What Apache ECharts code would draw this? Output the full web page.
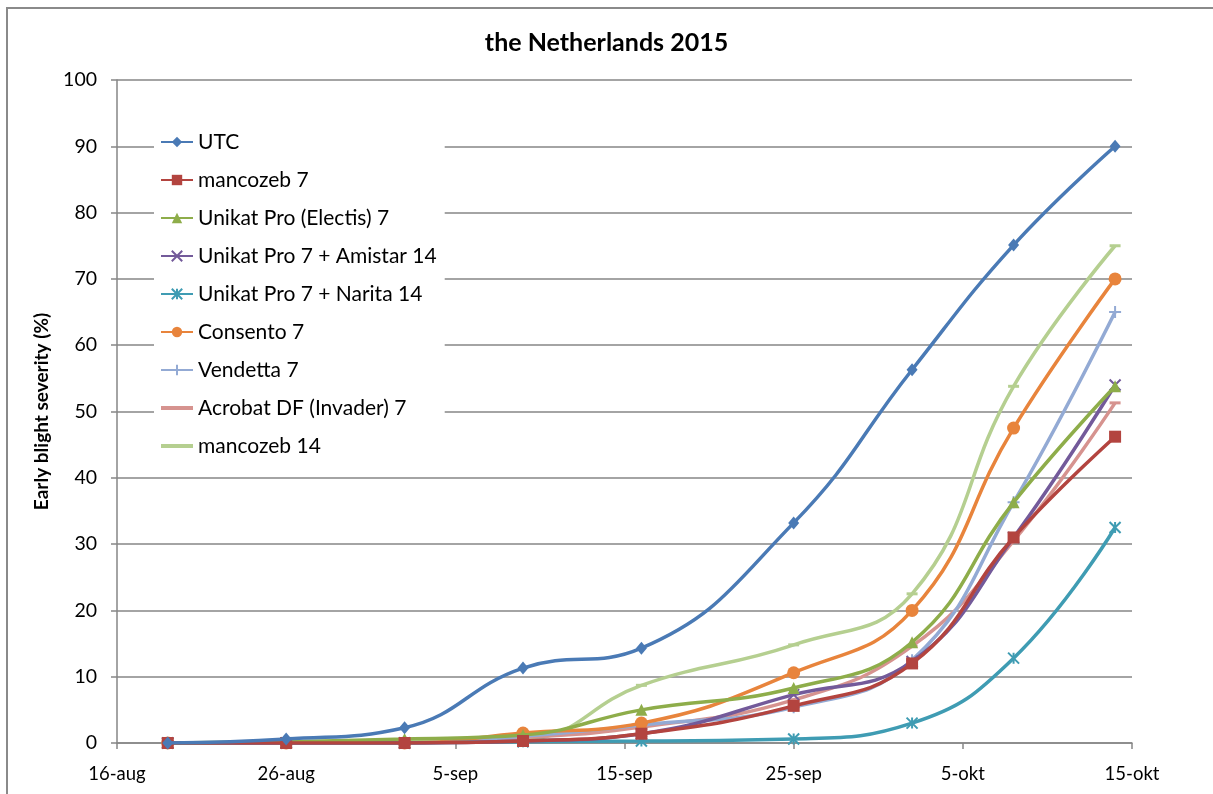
<!DOCTYPE html>
<html>
<head>
<meta charset="utf-8">
<script src="https://cdn.jsdelivr.net/npm/echarts@6/dist/echarts.min.js"></script>
<style>
html,body{margin:0;padding:0;background:#fff;}
#c{width:1213px;height:794px;}
</style>
</head>
<body>
<div id="c"></div>
<script>
// ---- data ----
const startDate = '2015-08-16';
const xTickLabels = ['16-aug', '26-aug', '5-sep', '15-sep', '25-sep', '5-okt', '15-okt'];
const dates = ['2015-08-19', '2015-08-26', '2015-09-02', '2015-09-09', '2015-09-16', '2015-09-25', '2015-10-02', '2015-10-08', '2015-10-14'];
const seriesNames = ['UTC', 'mancozeb 7', 'Unikat Pro (Electis) 7', 'Unikat Pro 7 + Amistar 14', 'Unikat Pro 7 + Narita 14', 'Consento 7', 'Vendetta 7', 'Acrobat DF (Invader) 7', 'mancozeb 14'];
const utc            = [0, 0.6, 2.3, 11.3, 14.3, 33.2, 56.3, 75.1, 90.0];
const mancozeb7      = [0, 0, 0, 0.3, 1.4, 5.6, 12.0, 31.0, 46.2];
const unikatElectis7 = [0, 0.2, 0.6, 1.2, 5.0, 8.3, 15.2, 36.3, 53.8];
const unikatAmistar  = [0, 0, 0, 0.3, 1.4, 7.3, 12.3, 31.0, 54.0];
const unikatNarita   = [0, 0, 0, 0.2, 0.3, 0.6, 3.0, 12.8, 32.5];
const consento7      = [0, 0, 0, 1.5, 3.0, 10.6, 20.0, 47.5, 70.0];
const vendetta7      = [0, 0, 0, 1.0, 2.7, 5.4, 12.5, 36.3, 65.0];
const acrobat7       = [0, 0, 0, 0.8, 2.4, 6.5, 14.6, 30.5, 51.3];
const mancozeb14     = [0, 0, 0.3, 0.5, 8.7, 14.8, 22.5, 53.8, 75.0];
const seriesValues = [utc, mancozeb7, unikatElectis7, unikatAmistar, unikatNarita, consento7, vendetta7, acrobat7, mancozeb14];

// ---- styling ----
const colors = ['#4A7AB5', '#B3443F', '#8EAD4A', '#735A9A', '#3F9CB3', '#E8843C', '#93AAD4', '#D6938F', '#B5CF90'];
const X_PATH = 'path://M0,0L10,10M10,0L0,10';
const STAR_PATH = 'path://M0,0L10,10M10,0L0,10M5,0L5,10';
const PLUS_PATH = 'path://M5,0L5,10M0,5L10,5';
const LINE_ICON = 'path://M0,0L32,0L32,4L0,4Z';
const symbols = [
  {symbol: 'diamond', size: [11, 13], stroke: false},
  {symbol: 'rect', size: 12, stroke: false},
  {symbol: 'triangle', size: 12, stroke: false},
  {symbol: X_PATH, size: 11, stroke: true},
  {symbol: STAR_PATH, size: 11, stroke: true},
  {symbol: 'circle', size: 13, stroke: false},
  {symbol: PLUS_PATH, size: 12, stroke: true},
  {symbol: 'rect', size: [11, 3], stroke: false, lineIcon: true},
  {symbol: 'rect', size: [11, 3], stroke: false, lineIcon: true}
];
const FONT = 'Lato, "Open Sans", sans-serif';

const day0 = Date.parse(startDate + 'T00:00:00Z');
function dayOffset(s) { return (Date.parse(s + 'T00:00:00Z') - day0) / 86400000; }
const xDays = dates.map(dayOffset);

const series = seriesNames.map((name, i) => ({
  name: name,
  type: 'line',
  smooth: 0.45,
  data: xDays.map((x, j) => [x, seriesValues[i][j]]),
  symbol: symbols[i].symbol,
  symbolSize: symbols[i].size,
  showSymbol: true,
  lineStyle: {color: colors[i], width: 3.5},
  itemStyle: symbols[i].stroke
    ? {color: colors[i], borderColor: colors[i], borderWidth: 2}
    : {color: colors[i], borderWidth: 0},
  emphasis: {disabled: true},
  z: 2 + (seriesNames.length - i)
}));

const legendData = seriesNames.map((name, i) =>
  symbols[i].lineIcon ? {name: name, icon: LINE_ICON} : {name: name});

const chart = echarts.init(document.getElementById('c'), null, {renderer: 'canvas'});
chart.setOption({
  animation: false,
  backgroundColor: '#fff',
  textStyle: {fontFamily: FONT},
  title: {
    text: 'the Netherlands 2015',
    left: 'center',
    top: 25,
    textStyle: {fontFamily: FONT, fontSize: 25, fontWeight: 'bold', color: '#000'}
  },
  graphic: [{
    type: 'rect',
    shape: {x: 7, y: 8, width: 1400, height: 1000},
    style: {fill: 'none', stroke: '#8a8a8a', lineWidth: 2},
    silent: true,
    z: -1
  }],
  legend: {
    orient: 'vertical',
    left: 154,
    top: 124,
    data: legendData,
    itemWidth: 32,
    itemHeight: 13,
    itemGap: 14,
    padding: [6, 8, 6, 6],
    backgroundColor: '#fff',
    textStyle: {fontFamily: FONT, fontSize: 21, lineHeight: 24, color: '#000', padding: [0, 0, 0, 0]},
    selectedMode: false,
    z: 10
  },
  grid: {left: 117, right: 81, top: 80, bottom: 51, containLabel: false},
  xAxis: {
    type: 'value',
    min: 0,
    max: 60,
    interval: 10,
    axisLine: {show: true, lineStyle: {color: '#868686', width: 1.5}},
    axisTick: {show: true, inside: false, length: 6, lineStyle: {color: '#868686', width: 1.5}},
    splitLine: {show: false},
    axisLabel: {
      margin: 22,
      fontFamily: FONT,
      fontSize: 18.5,
      color: '#000',
      formatter: v => xTickLabels[Math.round(v / 10)] || ''
    }
  },
  yAxis: {
    type: 'value',
    min: 0,
    max: 100,
    interval: 10,
    name: 'Early blight severity (%)',
    nameLocation: 'middle',
    nameGap: 66,
    nameTextStyle: {fontFamily: FONT, fontSize: 19, fontWeight: 'bold', color: '#000'},
    axisLine: {show: true, lineStyle: {color: '#868686', width: 1.5}},
    axisTick: {show: true, inside: false, length: 6, lineStyle: {color: '#868686', width: 1.5}},
    splitLine: {show: true, lineStyle: {color: '#868686', width: 1.5}},
    axisLabel: {margin: 20, fontFamily: FONT, fontSize: 19.5, color: '#000'}
  },
  series: series
});
</script>
</body>
</html>
